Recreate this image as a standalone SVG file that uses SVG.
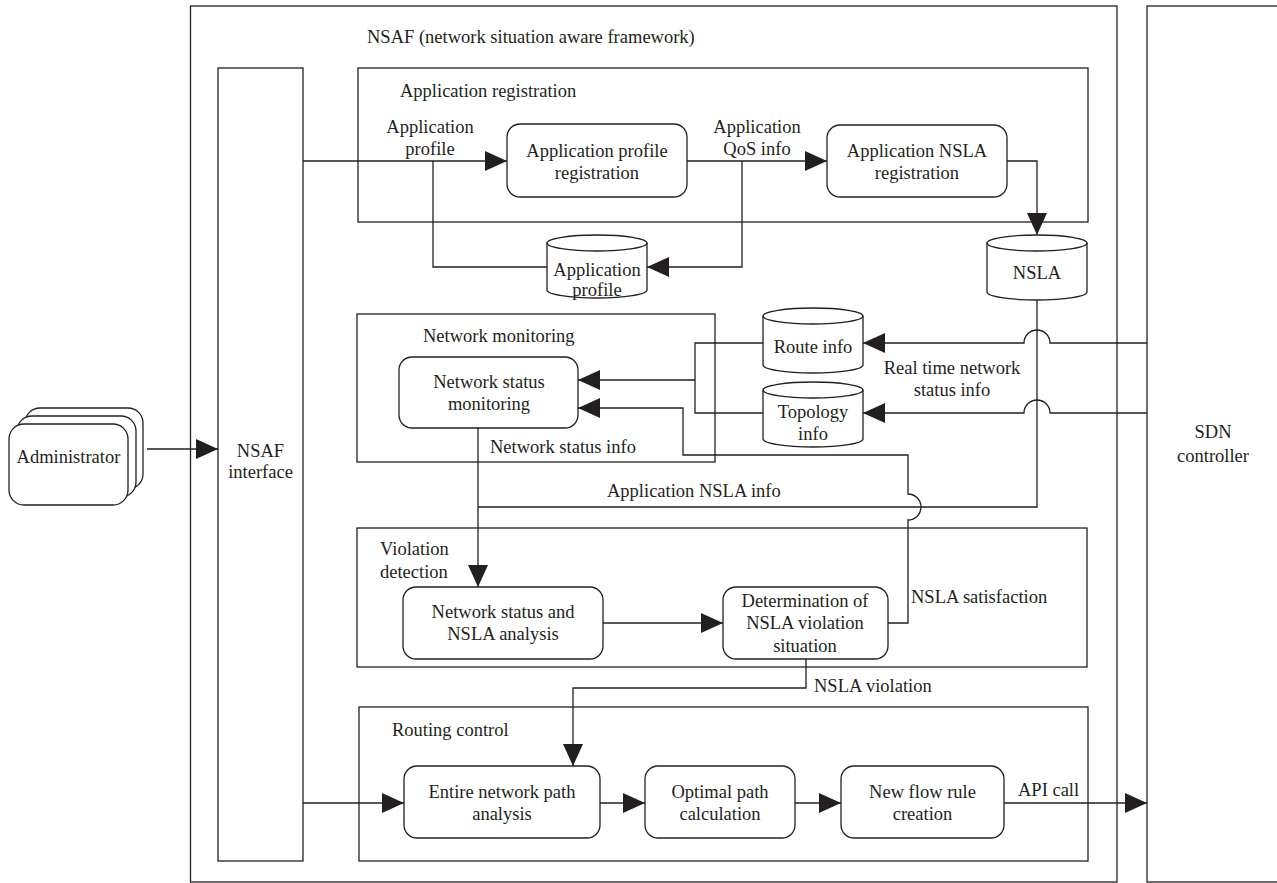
<svg xmlns="http://www.w3.org/2000/svg" width="1277" height="883" viewBox="0 0 1277 883">
  <defs>
    <style>
      .box { fill: #ffffff; stroke: #231f20; stroke-width: 1.3; }
      .frame { fill: none; stroke: #231f20; stroke-width: 1.3; }
      .wire { fill: none; stroke: #231f20; stroke-width: 1.3; }
      .arrow { marker-end: url(#head); }
      text { font-family: "Liberation Serif", "Times New Roman", serif; font-size: 18.5px; fill: #231f20; }
      .c { text-anchor: middle; }
    </style>
    <marker id="head" viewBox="0 0 22 20" refX="22" refY="10" markerWidth="22" markerHeight="20" markerUnits="userSpaceOnUse" orient="auto">
      <path d="M0,0 L22,10 L0,20 Z" fill="#231f20"/>
    </marker>
  </defs>

  <rect width="1277" height="883" fill="#ffffff"/>

  <!-- framework container -->
  <g id="nsaf">
    <rect class="frame" x="190.5" y="6" width="926.5" height="876"/>
    <text x="367" y="43">NSAF (network situation aware framework)</text>
  </g>

  <!-- SDN controller -->
  <g id="sdn-controller">
    <rect class="frame" x="1147" y="6" width="150" height="876"/>
    <text class="c" x="1213" y="438">SDN</text>
    <text class="c" x="1213" y="462">controller</text>
  </g>

  <!-- administrator (stacked cards) -->
  <g id="administrator">
    <rect class="box" x="25" y="408" width="118" height="81" rx="15"/>
    <rect class="box" x="17" y="416" width="119" height="81" rx="15"/>
    <rect class="box" x="9" y="424" width="119" height="81" rx="15"/>
    <text class="c" x="68.5" y="463">Administrator</text>
  </g>

  <!-- interface column -->
  <g id="nsaf-interface">
    <rect class="frame" x="218" y="68" width="85" height="793"/>
    <text class="c" x="260.5" y="457">NSAF</text>
    <text class="c" x="260.5" y="478">interface</text>
  </g>

  <!-- module frames -->
  <g id="application-registration">
    <rect class="frame" x="358" y="68" width="730" height="154"/>
    <text x="400" y="97">Application registration</text>
  </g>
  <g id="network-monitoring">
    <rect class="frame" x="357" y="314" width="358" height="148"/>
    <text x="423" y="342">Network monitoring</text>
  </g>
  <g id="violation-detection">
    <rect class="frame" x="357" y="528" width="730" height="139"/>
    <text x="380" y="555">Violation</text>
    <text x="380" y="578">detection</text>
  </g>
  <g id="routing-control">
    <rect class="frame" x="359" y="707" width="729" height="154"/>
    <text x="392" y="736">Routing control</text>
  </g>

  <!-- process nodes -->
  <g id="app-profile-registration">
    <rect class="box" x="507" y="124" width="180" height="73" rx="13"/>
    <text class="c" x="597" y="157">Application profile</text>
    <text class="c" x="597" y="179">registration</text>
  </g>
  <g id="app-nsla-registration">
    <rect class="box" x="827" y="125" width="180" height="72" rx="13"/>
    <text class="c" x="917" y="157">Application NSLA</text>
    <text class="c" x="917" y="179">registration</text>
  </g>
  <g id="network-status-monitoring">
    <rect class="box" x="399" y="357" width="179" height="71" rx="13"/>
    <text class="c" x="489" y="388">Network status</text>
    <text class="c" x="489" y="410">monitoring</text>
  </g>
  <g id="status-nsla-analysis">
    <rect class="box" x="403" y="587" width="200" height="72" rx="13"/>
    <text class="c" x="503" y="618">Network status and</text>
    <text class="c" x="503" y="640">NSLA analysis</text>
  </g>
  <g id="violation-determination">
    <rect class="box" x="723" y="587" width="165" height="72" rx="13"/>
    <text class="c" x="805" y="607">Determination of</text>
    <text class="c" x="805" y="629">NSLA violation</text>
    <text class="c" x="805" y="652">situation</text>
  </g>
  <g id="path-analysis">
    <rect class="box" x="404" y="766" width="196" height="72" rx="13"/>
    <text class="c" x="502" y="798">Entire network path</text>
    <text class="c" x="502" y="820">analysis</text>
  </g>
  <g id="optimal-path">
    <rect class="box" x="645" y="766" width="150" height="72" rx="13"/>
    <text class="c" x="720" y="798">Optimal path</text>
    <text class="c" x="720" y="820">calculation</text>
  </g>
  <g id="flow-rule-creation">
    <rect class="box" x="841" y="766" width="163" height="72" rx="13"/>
    <text class="c" x="922.5" y="798">New flow rule</text>
    <text class="c" x="922.5" y="820">creation</text>
  </g>

  <!-- data stores -->
  <g id="db-app-profile">
    <path class="box" d="M547,243 A50,8 0 0 1 647,243 V290 A50,8 0 0 1 547,290 Z"/>
    <path class="wire" d="M547,243 A50,8 0 0 0 647,243"/>
    <text class="c" x="597" y="276">Application</text>
    <text class="c" x="597" y="296">profile</text>
  </g>
  <g id="db-nsla">
    <path class="box" d="M987,243 A50,8 0 0 1 1087,243 V292 A50,8 0 0 1 987,292 Z"/>
    <path class="wire" d="M987,243 A50,8 0 0 0 1087,243"/>
    <text class="c" x="1037" y="279">NSLA</text>
  </g>
  <g id="db-route">
    <path class="box" d="M763,316 A50,8 0 0 1 863,316 V365 A50,8 0 0 1 763,365 Z"/>
    <path class="wire" d="M763,316 A50,8 0 0 0 863,316"/>
    <text class="c" x="813" y="353">Route info</text>
  </g>
  <g id="db-topology">
    <path class="box" d="M763,390 A50,8 0 0 1 863,390 V439 A50,8 0 0 1 763,439 Z"/>
    <path class="wire" d="M763,390 A50,8 0 0 0 863,390"/>
    <text class="c" x="813" y="418">Topology</text>
    <text class="c" x="813" y="440">info</text>
  </g>

  <!-- connectors -->
  <g id="connectors">
    <path class="wire arrow" d="M147,449 H218"/>
    <path class="wire arrow" d="M303,161 H507"/>
    <path class="wire" d="M433,161 V267 H547"/>
    <path class="wire arrow" d="M687,161 H827"/>
    <path class="wire arrow" d="M742,161 V267 H647"/>
    <path class="wire arrow" d="M1007,161 H1037 V235"/>
    <path class="wire arrow" d="M1147,343 H1050 A13,13 0 0 0 1024,343 H863"/>
    <path class="wire arrow" d="M1147,413 H1050 A13,13 0 0 0 1024,413 H863"/>
    <path class="wire" d="M763,343 H695 V413 H763"/>
    <path class="wire arrow" d="M695,380 H578"/>
    <path class="wire" d="M1037,300 V507 H478"/>
    <path class="wire arrow" d="M478,428 V587"/>
    <path class="wire arrow" d="M603,623 H723"/>
    <path class="wire arrow" d="M888,623 H908 V520 A13,13 0 0 0 908,494 V455 H683 V408 H578"/>
    <path class="wire arrow" d="M806,659 V688 H573 V766"/>
    <path class="wire arrow" d="M303,803 H404"/>
    <path class="wire arrow" d="M600,803 H645"/>
    <path class="wire arrow" d="M795,803 H841"/>
    <path class="wire arrow" d="M1004,803 H1147"/>

    <text class="c" x="430" y="133">Application</text>
    <text class="c" x="430" y="155">profile</text>
    <text class="c" x="757" y="133">Application</text>
    <text class="c" x="757" y="155">QoS info</text>
    <text class="c" x="952" y="374">Real time network</text>
    <text class="c" x="952" y="396">status info</text>
    <text x="490" y="453">Network status info</text>
    <text x="607" y="497">Application NSLA info</text>
    <text x="911" y="603">NSLA satisfaction</text>
    <text x="814" y="692">NSLA violation</text>
    <text x="1018" y="796">API call</text>
  </g>
</svg>
